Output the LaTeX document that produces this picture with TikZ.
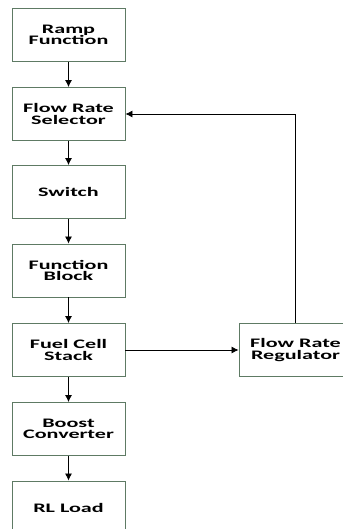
\documentclass[tikz,border=0pt]{standalone}
\usepackage{fontspec}
\setmainfont{Carlito}[FakeStretch=1.7]
\usetikzlibrary{arrows.meta}

\definecolor{BoxEdge}{HTML}{5E7A64}
\tikzstyle{block}=[draw=BoxEdge, line width=0.9pt, fill=white, minimum width=113pt, minimum height=53pt, align=center, inner sep=0pt, font=\fontsize{13}{11.5}\selectfont\bfseries]
\tikzstyle{flow}=[draw=black, line width=0.8pt, -{Latex[length=7pt, width=7pt]}]

\begin{document}
\begin{tikzpicture}[x=1pt, y=-1pt]
  \useasboundingbox (0,0) rectangle (342,529);

  % main chain
  \node (block-ramp) at (68.5, 35) [block] {Ramp\\Function};
  \node (block-selector) at (68.5, 114) [block] {Flow Rate\\Selector};
  \node (block-switch) at (68.5, 192) [block] {Switch};
  \node (block-function) at (68.5, 270.5) [block] {Function\\Block};
  \node (block-stack) at (68.5, 350) [block] {Fuel Cell\\Stack};
  \node (block-boost) at (68.5, 429) [block] {Boost\\Converter};
  \node (block-load) at (68.5, 507.5) [block] {RL Load};

  % feedback branch
  \node (block-regulator) at (295.5, 350) [block] {Flow Rate\\Regulator};

  \draw[flow] (block-ramp) -- (block-selector);
  \draw[flow] (block-selector) -- (block-switch);
  \draw[flow] (block-switch) -- (block-function);
  \draw[flow] (block-function) -- (block-stack);
  \draw[flow] (block-stack) -- (block-boost);
  \draw[flow] (block-boost) -- (block-load);
  \draw[flow] (block-stack) -- (block-regulator);
  \draw[flow] (block-regulator.north) |- (block-selector.east);
\end{tikzpicture}
\end{document}
